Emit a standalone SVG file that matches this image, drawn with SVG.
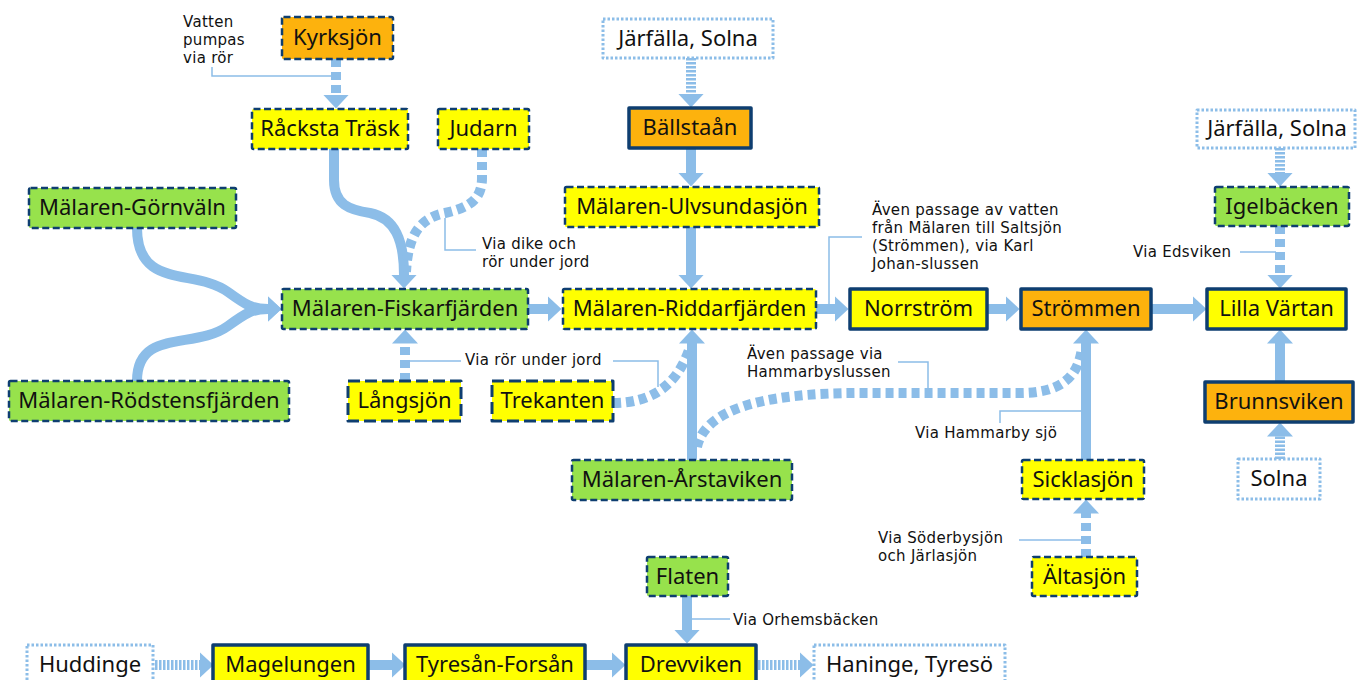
<svg xmlns="http://www.w3.org/2000/svg" width="1359" height="680" viewBox="0 0 1359 680">
  <defs>
    <style>
      .node rect { stroke-linejoin: round; }
      .yellow { fill: #FFFF00; }
      .orange { fill: #FDB20D; }
      .green { fill: #97E24C; }
      .ext { fill: #FFFFFF; stroke: #8CBDE8; stroke-width: 3; stroke-dasharray: 2.5 2; }
      .dash { stroke: #0E3E70; stroke-width: 2.5; stroke-dasharray: 7 3.5; }
      .dash-long { stroke: #0E3E70; stroke-width: 3; stroke-dasharray: 12 5; }
      .solid { stroke: #0E3E70; stroke-width: 3.5; }
      .label { font-family: "Noto Sans", "Liberation Sans", sans-serif; font-size: 22px; fill: #111; text-anchor: middle; }
      .note { font-family: "DejaVu Sans", "Liberation Sans", sans-serif; font-size: 15px; letter-spacing: 0.3px; fill: #111; }
      .flow { fill: none; stroke: #8CBDE8; stroke-width: 10; }
      .flow.dashed { stroke-dasharray: 8 5; }
      .flow.dotted { stroke-dasharray: 2.5 1.5; }
      .leader { fill: none; stroke: #8CBDE8; stroke-width: 1.5; }
    </style>
    <marker id="head" viewBox="0 0 14 26" refX="0.5" refY="13" markerWidth="14" markerHeight="26" markerUnits="userSpaceOnUse" orient="auto">
      <path d="M0,0 L14,13 L0,26 Z" fill="#8CBDE8"/>
    </marker>
  </defs>

  <rect width="1359" height="680" fill="#FFFFFF"/>

  <!-- flows between lakes -->
  <g id="connectors">
    <!-- Kyrksjön -> Råcksta Träsk -->
    <path class="flow dashed" d="M336,59 V95" marker-end="url(#head)"/>
    <!-- Råcksta Träsk -> Fiskarfjärden -->
    <path class="flow" d="M334,149 V180 C334,205 350,210 370,213 C395,218 404,240 404,275" marker-end="url(#head)"/>
    <!-- Judarn -> Fiskarfjärden -->
    <path class="flow dashed" d="M482,149 V178 C482,200 468,208 445,213 C420,218 408,235 406,272"/>
    <!-- Görnväln / Rödstensfjärden -> Fiskarfjärden -->
    <path class="flow" d="M137,228 C137,290 195,268 228,292 C246,305 252,309 268,309" marker-end="url(#head)"/>
    <path class="flow" d="M137,381 C137,328 195,350 228,326 C246,313 252,309 268,309" marker-end="url(#head)"/>
    <!-- Långsjön -> Fiskarfjärden -->
    <path class="flow dashed" d="M405,381 V343" marker-end="url(#head)"/>
    <!-- Fiskarfjärden -> Riddarfjärden -->
    <path class="flow" d="M528,309 H548" marker-end="url(#head)"/>
    <!-- Järfälla, Solna -> Bällstaån -> Ulvsundasjön -> Riddarfjärden -->
    <path class="flow dotted" d="M691,58 V94" marker-end="url(#head)"/>
    <path class="flow" d="M691,148 V173" marker-end="url(#head)"/>
    <path class="flow" d="M691,227 V275" marker-end="url(#head)"/>
    <!-- Årstaviken -> Riddarfjärden -->
    <path class="flow" d="M692,460 V343" marker-end="url(#head)"/>
    <!-- Trekanten -> Riddarfjärden -->
    <path class="flow dashed" d="M613,403 C650,403 676,387 689,350"/>
    <!-- Årstaviken -> Strömmen via Hammarbyslussen -->
    <path class="flow dashed" d="M697,447 C705,410 760,393 860,393 L1020,393 C1060,393 1078,378 1082,348"/>
    <!-- Riddarfjärden -> Norrström -> Strömmen -> Lilla Värtan -->
    <path class="flow" d="M816,309 H835" marker-end="url(#head)"/>
    <path class="flow" d="M987,309 H1006" marker-end="url(#head)"/>
    <path class="flow" d="M1151,309 H1193" marker-end="url(#head)"/>
    <!-- Sicklasjön -> Strömmen, Ältasjön -> Sicklasjön -->
    <path class="flow" d="M1086,460 V343" marker-end="url(#head)"/>
    <path class="flow dashed" d="M1086,557 V513" marker-end="url(#head)"/>
    <!-- Järfälla, Solna -> Igelbäcken -> Lilla Värtan -->
    <path class="flow dotted" d="M1280,148 V173" marker-end="url(#head)"/>
    <path class="flow dashed" d="M1280,226 V275" marker-end="url(#head)"/>
    <!-- Solna -> Brunnsviken -> Lilla Värtan -->
    <path class="flow" d="M1280,382 V343" marker-end="url(#head)"/>
    <path class="flow dotted" d="M1280,459 V436" marker-end="url(#head)"/>
    <!-- Flaten -> Drevviken -->
    <path class="flow" d="M687,596 V630" marker-end="url(#head)"/>
    <!-- Huddinge -> Magelungen -> Tyresån-Forsån -> Drevviken -> Haninge, Tyresö -->
    <path class="flow dotted" d="M155,665 H200" marker-end="url(#head)"/>
    <path class="flow" d="M368,665 H392" marker-end="url(#head)"/>
    <path class="flow" d="M585,665 H612" marker-end="url(#head)"/>
    <path class="flow dotted" d="M758,665 H800" marker-end="url(#head)"/>

    <!-- leader lines for notes -->
    <path class="leader" d="M212,67 V76 H333"/>
    <path class="leader" d="M445,218 V250 H476"/>
    <path class="leader" d="M405,361 H461"/>
    <path class="leader" d="M613,361 H658 V387"/>
    <path class="leader" d="M829,304 V237 H862"/>
    <path class="leader" d="M898,362 H928 V391"/>
    <path class="leader" d="M1000,423 V411 H1082"/>
    <path class="leader" d="M1019,540 H1082"/>
    <path class="leader" d="M1240,252 H1276"/>
    <path class="leader" d="M692,619 H730"/>
  </g>

  <!-- notes -->
  <g id="notes">
    <text class="note" x="183" y="27">Vatten<tspan x="183" dy="18">pumpas</tspan><tspan x="183" dy="18">via rör</tspan></text>
    <text class="note" x="482" y="249">Via dike och<tspan x="482" dy="18">rör under jord</tspan></text>
    <text class="note" x="465" y="365">Via rör under jord</text>
    <text class="note" x="872" y="215">Även passage av vatten<tspan x="872" dy="18">från Mälaren till Saltsjön</tspan><tspan x="872" dy="18">(Strömmen), via Karl</tspan><tspan x="872" dy="18">Johan-slussen</tspan></text>
    <text class="note" x="747" y="359">Även passage via<tspan x="747" dy="18">Hammarbyslussen</tspan></text>
    <text class="note" x="915" y="438">Via Hammarby sjö</text>
    <text class="note" x="878" y="543">Via Söderbysjön<tspan x="878" dy="18">och Järlasjön</tspan></text>
    <text class="note" x="1133" y="257">Via Edsviken</text>
    <text class="note" x="733" y="625">Via Orhemsbäcken</text>
  </g>

  <!-- lakes and streams -->
  <g id="kyrksjon" class="node"><rect class="orange dash" x="282" y="17" width="111" height="42" rx="1.5"/><text class="label" x="337.5" y="45">Kyrksjön</text></g>
  <g id="racksta-trask" class="node"><rect class="yellow dash" x="252" y="109" width="156" height="40" rx="1.5"/><text class="label" x="330" y="136">Råcksta Träsk</text></g>
  <g id="judarn" class="node"><rect class="yellow dash" x="438" y="109" width="91" height="40" rx="1.5"/><text class="label" x="483.5" y="136">Judarn</text></g>
  <g id="jarfalla-solna-1" class="node"><rect class="ext" x="603" y="19" width="170" height="39"/><text class="label" x="688" y="46">Järfälla, Solna</text></g>
  <g id="ballstaan" class="node"><rect class="orange solid" x="629" y="108" width="122" height="40"/><text class="label" x="690" y="135">Bällstaån</text></g>
  <g id="ulvsundasjon" class="node"><rect class="yellow dash" x="565" y="187" width="254" height="40" rx="1.5"/><text class="label" x="692" y="214">Mälaren-Ulvsundasjön</text></g>
  <g id="gornvaln" class="node"><rect class="green dash" x="29" y="188" width="207" height="40" rx="1.5"/><text class="label" x="132.5" y="215">Mälaren-Görnväln</text></g>
  <g id="fiskarfjarden" class="node"><rect class="green dash" x="282" y="289" width="246" height="40" rx="1.5"/><text class="label" x="405" y="316">Mälaren-Fiskarfjärden</text></g>
  <g id="riddarfjarden" class="node"><rect class="yellow dash" x="563" y="289" width="253" height="40" rx="1.5"/><text class="label" x="689.5" y="316">Mälaren-Riddarfjärden</text></g>
  <g id="norrstrom" class="node"><rect class="yellow solid" x="850" y="289" width="137" height="40"/><text class="label" x="918.5" y="316">Norrström</text></g>
  <g id="strommen" class="node"><rect class="orange solid" x="1021" y="289" width="130" height="40"/><text class="label" x="1086" y="316">Strömmen</text></g>
  <g id="lilla-vartan" class="node"><rect class="yellow solid" x="1207" y="289" width="139" height="40"/><text class="label" x="1276.5" y="316">Lilla Värtan</text></g>
  <g id="jarfalla-solna-2" class="node"><rect class="ext" x="1197" y="110" width="158" height="38"/><text class="label" x="1277" y="136">Järfälla, Solna</text></g>
  <g id="igelbacken" class="node"><rect class="green dash" x="1215" y="187" width="134" height="39" rx="1.5"/><text class="label" x="1282" y="214">Igelbäcken</text></g>
  <g id="brunnsviken" class="node"><rect class="orange solid" x="1205" y="382" width="148" height="40"/><text class="label" x="1279" y="409">Brunnsviken</text></g>
  <g id="solna" class="node"><rect class="ext" x="1238" y="459" width="82" height="40"/><text class="label" x="1279" y="486">Solna</text></g>
  <g id="rodstensfjarden" class="node"><rect class="green dash" x="9" y="381" width="280" height="40" rx="1.5"/><text class="label" x="149" y="408">Mälaren-Rödstensfjärden</text></g>
  <g id="langsjon" class="node"><rect class="yellow dash-long" x="348" y="381" width="113" height="40"/><text class="label" x="404.5" y="408">Långsjön</text></g>
  <g id="trekanten" class="node"><rect class="yellow dash-long" x="492" y="381" width="121" height="40"/><text class="label" x="552.5" y="408">Trekanten</text></g>
  <g id="arstaviken" class="node"><rect class="green dash" x="572" y="460" width="220" height="40" rx="1.5"/><text class="label" x="682" y="487">Mälaren-Årstaviken</text></g>
  <g id="sicklasjon" class="node"><rect class="yellow dash" x="1022" y="460" width="122" height="39" rx="1.5"/><text class="label" x="1083" y="487">Sicklasjön</text></g>
  <g id="altasjon" class="node"><rect class="yellow dash" x="1032" y="557" width="105" height="39" rx="1.5"/><text class="label" x="1084.5" y="584">Ältasjön</text></g>
  <g id="flaten" class="node"><rect class="green dash" x="647" y="557" width="81" height="39" rx="1.5"/><text class="label" x="687.5" y="584">Flaten</text></g>
  <g id="huddinge" class="node"><rect class="ext" x="27" y="645" width="126" height="40"/><text class="label" x="90" y="672">Huddinge</text></g>
  <g id="magelungen" class="node"><rect class="yellow solid" x="213" y="645" width="155" height="40"/><text class="label" x="290.5" y="672">Magelungen</text></g>
  <g id="tyresan-forsan" class="node"><rect class="yellow solid" x="405" y="645" width="180" height="40"/><text class="label" x="495" y="672">Tyresån-Forsån</text></g>
  <g id="drevviken" class="node"><rect class="yellow solid" x="626" y="645" width="130" height="40"/><text class="label" x="691" y="672">Drevviken</text></g>
  <g id="haninge-tyreso" class="node"><rect class="ext" x="814" y="645" width="191" height="40"/><text class="label" x="909.5" y="672">Haninge, Tyresö</text></g>
</svg>
